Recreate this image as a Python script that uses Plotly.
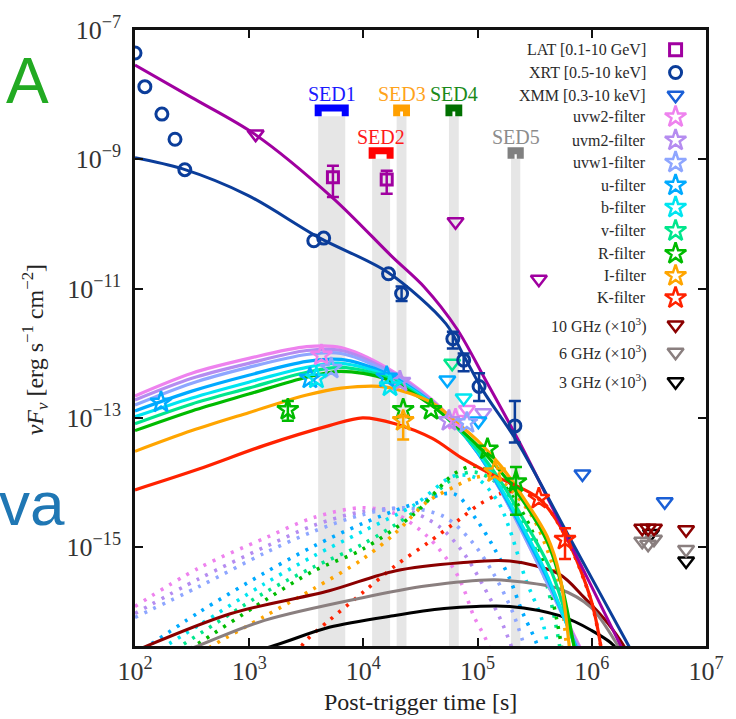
import numpy as np
import plotly.graph_objects as go

SERIF = "Liberation Serif"

# ---------------- model light curves: time [s], nuFnu [erg s^-1 cm^-2] ----------------
lat_model_t = [100, 315, 1117, 5438, 17820, 34220, 65770, 119000, 233200, 639400, 1.789e6, 2.18e6]
lat_model_f = [2.88e-8, 9.0e-9, 2.45e-9, 2.49e-10, 3.12e-11, 1.05e-11, 2.39e-12, 3.69e-13, 4.16e-14, 1.19e-15, 3.0e-17, 1.46e-17]

xrt_model_t = [100, 258, 973, 4122, 16460, 52900, 75510, 112200, 224200, 665300, 2.096e6, 2.657e6]
xrt_model_f = [1.06e-9, 7.16e-10, 2.77e-10, 6.08e-11, 1.77e-11, 2.84e-12, 9.2e-13, 2.59e-13, 4.16e-14, 1.23e-15, 3.0e-17, 1.36e-17]

band_keys = ["uvw2", "uvm2", "uvw1", "u", "b", "v", "R", "I", "K"]
band_labels = ["uvw2-filter", "uvm2-filter", "uvw1-filter", "u-filter", "b-filter",
               "v-filter", "R-filter", "I-filter", "K-filter"]

total_t = {
    "uvw2": [100, 315, 990, 3190, 6370, 15820, 40110, 63200, 99600, 160200, 252500, 397800, 810900],
    "uvm2": [100, 315, 990, 3190, 6370, 15820, 40110, 63200, 99600, 160200, 252500, 397800, 810900],
    "uvw1": [100, 315, 990, 3190, 6370, 15820, 40110, 63200, 99600, 160200, 252500, 397800, 779500],
    "u":    [100, 315, 990, 3190, 6370, 15820, 40110, 63200, 99600, 160200, 252500, 397800, 749300],
    "b":    [100, 315, 990, 3190, 6370, 15820, 40110, 63200, 99600, 160200, 252500, 397800, 734500],
    "v":    [100, 315, 990, 3190, 6370, 15820, 40110, 63200, 99600, 160200, 252500, 447900, 720300],
    "R":    [100, 315, 990, 3190, 6370, 15820, 40110, 63200, 99600, 160200, 252500, 405800, 546000, 706200],
    "I":    [100, 315, 990, 3190, 6370, 15820, 40110, 63200, 99600, 160200, 252500, 405800, 524800, 639400],
    "K":    [100, 362, 1362, 5024, 9840, 18910, 40110, 71150, 136700, 346400, 579300, 988300, 1.253e6],
}
total_f = {
    "uvw2": [2.18e-13, 4.9e-13, 8.3e-13, 1.26e-12, 1.22e-12, 6.04e-13, 1.89e-13, 8.4e-14, 3.03e-14, 7.67e-15, 1.63e-15, 3.23e-16, 2.56e-17],
    "uvm2": [1.89e-13, 4.10e-13, 6.97e-13, 1.10e-12, 1.10e-12, 5.64e-13, 1.82e-13, 8.1e-14, 2.93e-14, 7.41e-15, 1.57e-15, 3.12e-16, 2.38e-17],
    "uvw1": [1.58e-13, 3.44e-13, 6.04e-13, 9.55e-13, 9.9e-13, 5.25e-13, 1.76e-13, 8.1e-14, 2.93e-14, 7.41e-15, 1.57e-15, 3.01e-16, 2.56e-17],
    "u":    [1.28e-13, 2.59e-13, 4.56e-13, 7.46e-13, 8.0e-13, 4.90e-13, 1.70e-13, 7.85e-14, 2.93e-14, 7.67e-15, 1.75e-15, 3.59e-16, 2.56e-17],
    "b":    [1.04e-13, 2.03e-13, 3.56e-13, 6.04e-13, 6.97e-13, 4.56e-13, 1.64e-13, 7.85e-14, 3.03e-14, 8.2e-15, 1.95e-15, 3.99e-16, 2.56e-17],
    "v":    [8.1e-14, 1.64e-13, 2.88e-13, 5.07e-13, 6.04e-13, 4.25e-13, 1.58e-13, 7.57e-14, 3.26e-14, 1.02e-14, 2.67e-15, 3.99e-16, 2.56e-17],
    "R":    [6.35e-14, 1.28e-13, 2.33e-13, 4.25e-13, 5.25e-13, 3.96e-13, 1.53e-13, 7.85e-14, 3.75e-14, 1.45e-14, 5.04e-15, 1.23e-15, 2.52e-16, 2.56e-17],
    "I":    [3.03e-14, 6.35e-14, 1.20e-13, 2.25e-13, 2.88e-13, 2.99e-13, 1.70e-13, 9.0e-14, 4.47e-14, 1.79e-14, 5.79e-15, 1.47e-15, 3.59e-16, 2.56e-17],
    "K":    [7.67e-15, 1.61e-14, 3.75e-14, 7.57e-14, 1.00e-13, 8.1e-14, 4.80e-14, 2.45e-14, 1.30e-14, 5.60e-15, 1.57e-15, 1.49e-16, 1.80e-17],
}

# second (dotted) emission component per band
second_t = {
    "uvw2": [100, 362, 1362, 3660, 9840, 18910, 36320, 61970, 75510, 92040, 119000, 136700],
    "uvm2": [100, 362, 1362, 3660, 9840, 23040, 46050, 75510, 112200, 160200, 203100],
    "uvw1": [100, 362, 1362, 3660, 9840, 23040, 50850, 88460, 136700, 203100, 262700],
    "u":    [100, 362, 1362, 3660, 9840, 28090, 61970, 97650, 136700, 191300, 247500, 320100, 367600],
    "b":    [100, 362, 1362, 3660, 9840, 28090, 61970, 97650, 150900, 191300, 262700, 367600, 430500],
    "v":    [135, 258, 1362, 3660, 9840, 28090, 61970, 92040, 136700, 203100, 301600, 405800, 494600, 546000],
    "R":    [181, 341, 1362, 3660, 9840, 28090, 61970, 92040, 136700, 203100, 301600, 405800, 494600, 568000],
    "I":    [269, 487, 1362, 3660, 9840, 18910, 36320, 61970, 92040, 136700, 203100, 301600, 405800, 524800, 614700],
    "K":    [2616, 3004, 5024, 9840, 18910, 36320, 71150, 105700, 183900, 346400, 579300, 988300, 1.253e6],
}
second_f = {
    "uvw2": [1.21e-16, 4.75e-16, 1.37e-15, 2.86e-15, 4.07e-15, 3.30e-15, 1.47e-15, 4.59e-16, 2.27e-16, 8.77e-17, 3.64e-17, 1.8e-17],
    "uvm2": [9.4e-17, 3.23e-16, 1.0e-15, 2.16e-15, 3.54e-15, 3.79e-15, 2.08e-15, 8.07e-16, 2.52e-16, 7.36e-17, 2.56e-17],
    "uvw1": [8.18e-17, 2.44e-16, 8.07e-16, 1.75e-15, 3.18e-15, 4.07e-15, 2.96e-15, 1.23e-15, 3.99e-16, 9.75e-17, 2.56e-17],
    "u":    [2.14e-17, 9.75e-17, 3.99e-16, 1.03e-15, 2.32e-15, 4.69e-15, 6.67e-15, 2.67e-15, 1.03e-15, 3.23e-16, 9.75e-17, 3.64e-17, 1.8e-17],
    "b":    [1.51e-17, 6.17e-17, 2.71e-16, 7.26e-16, 1.75e-15, 4.53e-15, 1.26e-14, 1.17e-14, 5.04e-15, 1.87e-15, 3.23e-16, 7.36e-17, 1.8e-17],
    "v":    [1.51e-17, 3.05e-17, 1.97e-16, 4.92e-16, 1.11e-15, 3.54e-15, 1.17e-14, 1.45e-14, 1.09e-14, 4.69e-15, 1.23e-15, 2.52e-16, 5.18e-17, 1.8e-17],
    "R":    [1.51e-17, 3.05e-17, 1.49e-16, 4.28e-16, 9.27e-16, 3.30e-15, 1.35e-14, 1.79e-14, 1.35e-14, 6.0e-15, 1.75e-15, 3.59e-16, 7.36e-17, 1.8e-17],
    "I":    [1.51e-17, 3.05e-17, 8.47e-17, 2.27e-16, 6.52e-16, 1.63e-15, 5.04e-15, 8.5e-15, 1.17e-14, 1.26e-14, 7.16e-15, 2.96e-15, 9.27e-16, 2.11e-16, 1.8e-17],
    "K":    [2.14e-17, 3.28e-17, 7.36e-17, 1.97e-16, 5.11e-16, 1.15e-15, 2.77e-15, 4.69e-15, 7.16e-15, 5.5e-15, 1.55e-15, 1.45e-16, 1.8e-17],
}

# radio models (x10^3)
r10_model_t = [100, 695, 5024, 18910, 71150, 191300, 514300, 860400, 1.383e6, 1.898e6, 2.18e6]
r10_model_f = [2.47e-17, 9.4e-17, 2.11e-16, 4.28e-16, 5.73e-16, 6.08e-16, 3.85e-16, 1.65e-16, 6.62e-17, 3.0e-17, 1.8e-17]
r6_model_t = [100, 362, 1362, 9840, 36320, 136700, 191300, 514300, 988300, 1.686e6, 1.975e6]
r6_model_f = [1.22e-17, 3.0e-17, 7.36e-17, 1.65e-16, 2.52e-16, 3.12e-16, 3.01e-16, 2.27e-16, 1.16e-16, 3.0e-17, 1.8e-17]
r3_model_t = [362, 1660, 5024, 18910, 50850, 97650, 191300, 514300, 988300, 1.557e6, 1.789e6]
r3_model_f = [1.36e-17, 3.0e-17, 5.75e-17, 8.77e-17, 1.12e-16, 1.21e-16, 1.21e-16, 8.77e-17, 5.18e-17, 3.0e-17, 1.8e-17]

# ---------------- observations ----------------
lat_t = [5410, 16000]
lat_f = [5.27e-10, 4.86e-10]
lat_hi = [7.96e-10, 6.67e-10]
lat_lo = [2.61e-10, 2.94e-10]
lat_ul_t = [1139, 64100, 344000]
lat_ul_f = [2.45e-9, 1.08e-10, 1.39e-11]

xrt_t = [100, 122, 172, 224, 273, 3680, 4490, 16600, 21600, 60700, 75500, 103000, 212000]
xrt_f = [4.4e-8, 1.33e-8, 5.0e-9, 2.04e-9, 6.9e-10, 5.48e-11, 6.03e-11, 1.69e-11, 8.4e-12, 1.67e-12, 7.8e-13, 3.06e-13, 7.5e-14]
xrt_hi = [None] * 8 + [1.08e-11, 2.15e-12, 9.9e-13, 4.9e-13, 1.82e-13]
xrt_lo = [None] * 8 + [6.4e-12, 1.18e-12, 5.25e-13, 1.82e-13, 4.16e-14]

xmm_ul_t = [8.28e5, 4.35e6]
xmm_ul_f = [1.35e-14, 5.04e-15]

det_t = {
    "uvw2": [4290, 64100], "uvm2": [20870, 56100], "uvw1": [5220, 80600],
    "u": [169, 3400, 16000], "b": [3880, 17100], "v": [],
    "R": [2180, 22300, 39100, 122100, 216700], "I": [22300, 141300], "K": [344000, 582900],
}
det_f = {
    "uvw2": [9.3e-13, 9.4e-14], "uvm2": [3.65e-13, 9.0e-14], "uvw1": [5.83e-13, 8.4e-14],
    "u": [1.74e-13, 4.10e-13, 4.25e-13], "b": [4.10e-13, 3.1e-13], "v": [],
    "R": [1.34e-13, 1.34e-13, 1.34e-13, 3.28e-14, 1.02e-14], "I": [9.0e-14, 1.45e-14], "K": [5.65e-15, 1.31e-15],
}
det_hi = {"R": [1.82e-13, None, None, None, 1.73e-14], "I": [1.08e-13, None], "K": [None, 1.95e-15]}
det_lo = {"R": [9.0e-14, None, None, None, 3.18e-15], "I": [4.62e-14, None], "K": [None, 6.52e-16]}

band_ul_t = {"uvw2": [80600], "uvm2": [112200], "u": [54300, 101600], "b": [75500], "v": [59900]}
band_ul_f = {"uvw2": [1.34e-13], "uvm2": [1.20e-13], "u": [3.86e-13, 8.9e-14], "b": [2.03e-13], "v": [6.97e-13]}

r10_ul_t = [2.765e6, 3.112e6, 3.504e6, 6.694e6]
r10_ul_f = [1.96e-15, 1.96e-15, 1.96e-15, 1.86e-15]
r6_ul_t = [2.765e6, 3.112e6, 3.504e6, 6.694e6]
r6_ul_f = [1.23e-15, 1.11e-15, 1.32e-15, 9.18e-16]
r3_ul_t = [3.3e6, 6.694e6]
r3_ul_f = [1.63e-15, 6.08e-16]

# SED time windows
sed_names = ["SED1", "SED2", "SED3", "SED4", "SED5"]
sed_start = [4018, 11930, 19550, 56120, 196300]
sed_stop = [6936, 17130, 23840, 68390, 236400]
sed_bar_f = [6.24e-9, 1.35e-9, 6.24e-9, 6.24e-9, 1.35e-9]
sed_leg_f = [4.62e-9, 1.02e-9, 4.62e-9, 4.62e-9, 1.02e-9]

# ---------------- styles ----------------
LAT_C = "#a000a0"
XRT_C = "#0b3d9a"
XMM_C = "#1a5fd6"
band_color = {"uvw2": "#ee82ee", "uvm2": "#b58cf0", "uvw1": "#8ea6ff", "u": "#00aaff",
              "b": "#00e5f0", "v": "#00e68c", "R": "#00bb00", "I": "#ffa500", "K": "#ff2200"}
R10_C, R6_C, R3_C = "#8b0000", "#8a7f7f", "#000000"
sed_colors = ["#1a1aff", "#ff1a1a", "#ffa31a", "#1a8a1a", "#8c8c8c"]
sed_bar_colors = ["#0000ff", "#ff0000", "#ffa000", "#007000", "#808080"]
BAND_GRAY = "#e6e6e6"

SZ_SQ, SZ_CI, SZ_TRI, SZ_STAR = 11, 12, 14, 16

fig = go.Figure()


def line(t, f, color, width=3, dash=None):
    fig.add_trace(go.Scatter(x=t, y=f, mode="lines",
                             line=dict(color=color, width=width, shape="spline", smoothing=0.9,
                                       dash=dash),
                             showlegend=False, hoverinfo="skip"))


def points(t, f, symbol, color, size, width, hi=None, lo=None):
    t = np.asarray(t, float)
    f = np.asarray(f, float)
    if len(t) == 0:
        return
    has = np.array([h is not None for h in hi]) if hi is not None else np.zeros(len(t), bool)
    mk = dict(symbol=symbol, size=size, color=color, line=dict(color=color, width=width))
    if (~has).any():
        fig.add_trace(go.Scatter(x=t[~has], y=f[~has], mode="markers", marker=mk,
                                 showlegend=False, hoverinfo="skip"))
    if has.any():
        idx = np.where(has)[0]
        up = np.array([hi[i] for i in idx]) - f[idx]
        dn = f[idx] - np.array([lo[i] for i in idx])
        fig.add_trace(go.Scatter(x=t[idx], y=f[idx], mode="markers", marker=mk,
                                 error_y=dict(type="data", symmetric=False, array=up, arrayminus=dn,
                                              color=color, thickness=2.5, width=6),
                                 showlegend=False, hoverinfo="skip"))


# SED windows: gray strips
for s0, s1, lf in zip(sed_start, sed_stop, sed_leg_f):
    fig.add_trace(go.Scatter(x=[s0, s1, s1, s0, s0], y=[1e-17, 1e-17, lf, lf, 1e-17],
                             mode="lines", fill="toself", fillcolor=BAND_GRAY,
                             line=dict(width=0, color=BAND_GRAY), showlegend=False, hoverinfo="skip"))

# dotted second component
for k in band_keys:
    line(second_t[k], second_f[k], band_color[k], width=3.6, dash="3px,7px")

# radio models
line(r10_model_t, r10_model_f, R10_C)
line(r6_model_t, r6_model_f, R6_C)
line(r3_model_t, r3_model_f, R3_C)

# optical / UV total models
for k in band_keys:
    line(total_t[k], total_f[k], band_color[k], width=3.2)

# X-ray and gamma-ray models
line(lat_model_t, lat_model_f, LAT_C)
line(xrt_model_t, xrt_model_f, XRT_C)

# SED brackets
for s0, s1, bf, lf, c in zip(sed_start, sed_stop, sed_bar_f, sed_leg_f, sed_bar_colors):
    fig.add_trace(go.Scatter(x=[s0, s0, s1, s1], y=[lf, bf, bf, lf], mode="lines",
                             line=dict(color=c, width=7), showlegend=False, hoverinfo="skip"))

# data
points(lat_ul_t, lat_ul_f, "triangle-down-open", LAT_C, SZ_TRI, 2.5)
points(lat_t, lat_f, "square-open", LAT_C, SZ_SQ, 3, lat_hi, lat_lo)
points(xmm_ul_t, xmm_ul_f, "triangle-down-open", XMM_C, SZ_TRI, 2.5)
for k in band_keys:
    if k in band_ul_t:
        points(band_ul_t[k], band_ul_f[k], "triangle-down-open", band_color[k], SZ_TRI, 2.5)
for k in band_keys:
    points(det_t[k], det_f[k], "star-open", band_color[k], SZ_STAR, 2.5, det_hi.get(k), det_lo.get(k))
points(xrt_t, xrt_f, "circle-open", XRT_C, SZ_CI, 3, xrt_hi, xrt_lo)
points(r3_ul_t, r3_ul_f, "triangle-down-open", R3_C, SZ_TRI, 2.5)
points(r6_ul_t, r6_ul_f, "triangle-down-open", R6_C, SZ_TRI, 2.5)
points(r10_ul_t, r10_ul_f, "triangle-down-open", R10_C, SZ_TRI, 2.5)

annotations = []

# SED labels
for name, s0, s1, bf, c in zip(sed_names, sed_start, sed_stop, sed_bar_f, sed_colors):
    annotations.append(dict(x=0.5 * (np.log10(s0) + np.log10(s1)), y=np.log10(bf), xref="x", yref="y",
                            text=name, showarrow=False, yanchor="middle", yshift=14,
                            font=dict(family=SERIF, size=20, color=c)))

# legend (text left of the symbol)
legend_items = [("LAT [0.1-10 GeV]", "square-open", LAT_C, SZ_SQ + 1, 3),
                ("XRT [0.5-10 keV]", "circle-open", XRT_C, SZ_CI, 3),
                ("XMM [0.3-10 keV]", "triangle-down-open", XMM_C, SZ_TRI, 2.5)]
legend_items += [(lab, "star-open", band_color[k], SZ_STAR, 2.5) for k, lab in zip(band_keys, band_labels)]
legend_items += [("10 GHz (\u00d710<sup>3</sup>)", "triangle-down-open", R10_C, SZ_TRI, 2.5),
                 ("6 GHz (\u00d710<sup>3</sup>)", "triangle-down-open", R6_C, SZ_TRI, 2.5),
                 ("3 GHz (\u00d710<sup>3</sup>)", "triangle-down-open", R3_C, SZ_TRI, 2.5)]
legend_y = [0.968, 0.931, 0.894, 0.859, 0.821, 0.785, 0.748, 0.712, 0.674, 0.637, 0.601, 0.565,
            0.521, 0.477, 0.429]
for (lab, sym, col, sz, w), ly in zip(legend_items, legend_y):
    fig.add_trace(go.Scatter(x=[0.9467], y=[ly], xaxis="x2", yaxis="y2", mode="markers",
                             marker=dict(symbol=sym, size=sz, color=col, line=dict(color=col, width=w)),
                             showlegend=False, hoverinfo="skip", cliponaxis=False))
    annotations.append(dict(x=0.899, y=ly, xref="paper", yref="paper", text=lab, showarrow=False,
                            xanchor="right", yanchor="middle",
                            font=dict(family=SERIF, size=16, color="#2a2a2a")))

# axis titles
annotations.append(dict(x=0.5, y=-0.0915, xref="paper", yref="paper", text="Post-trigger time [s]",
                        showarrow=False, xanchor="center", yanchor="middle",
                        font=dict(family=SERIF, size=24, color="#222")))
annotations.append(dict(x=-0.1753, y=0.4815, xref="paper", yref="paper",
                        text="<i>\u03bdF<sub>\u03bd</sub></i> [erg s<sup>\u22121</sup> cm<sup>\u22122</sup>]",
                        showarrow=False, textangle=-90, xanchor="center", yanchor="middle",
                        font=dict(family=SERIF, size=24, color="#222")))

# panel letters bleeding in from the neighbouring figure
annotations.append(dict(x=-0.189, y=0.9165, xref="paper", yref="paper", text="A", showarrow=False,
                        xanchor="center", yanchor="middle",
                        font=dict(family="Liberation Sans", size=64, color="#22aa22")))
annotations.append(dict(x=-0.1185, y=0.2311, xref="paper", yref="paper", text="va", showarrow=False,
                        xanchor="right", yanchor="middle",
                        font=dict(family="Liberation Sans", size=62, color="#1f77b4")))

xt = [1e2, 1e3, 1e4, 1e5, 1e6, 1e7]
yt = [1e-7, 1e-9, 1e-11, 1e-13, 1e-15]
fig.update_layout(
    width=736, height=719,
    margin=dict(l=135, r=19, t=23, b=73),
    paper_bgcolor="white", plot_bgcolor="white",
    showlegend=False,
    xaxis=dict(type="log", range=[2, 7], tickvals=xt,
               ticktext=["10<sup>%d</sup>" % round(np.log10(v)) for v in xt],
               ticks="inside", ticklen=8, tickwidth=2, tickcolor="#111",
               showline=True, linewidth=2.5, linecolor="#111", mirror="allticks",
               showgrid=False, zeroline=False,
               tickfont=dict(family=SERIF, size=26, color="#333")),
    yaxis=dict(type="log", range=[-16.53, -7], tickvals=yt,
               ticktext=["10<sup>\u2212%d</sup>" % round(-np.log10(v)) for v in yt],
               ticks="inside", ticklen=8, tickwidth=2, tickcolor="#111",
               showline=True, linewidth=2.5, linecolor="#111", mirror="allticks",
               showgrid=False, zeroline=False, ticklabelstandoff=6,
               tickfont=dict(family=SERIF, size=26, color="#333")),
    xaxis2=dict(overlaying="x", range=[0, 1], visible=False, fixedrange=True),
    yaxis2=dict(overlaying="y", range=[0, 1], visible=False, fixedrange=True),
    annotations=annotations,
)

fig.write_html("out.html")
